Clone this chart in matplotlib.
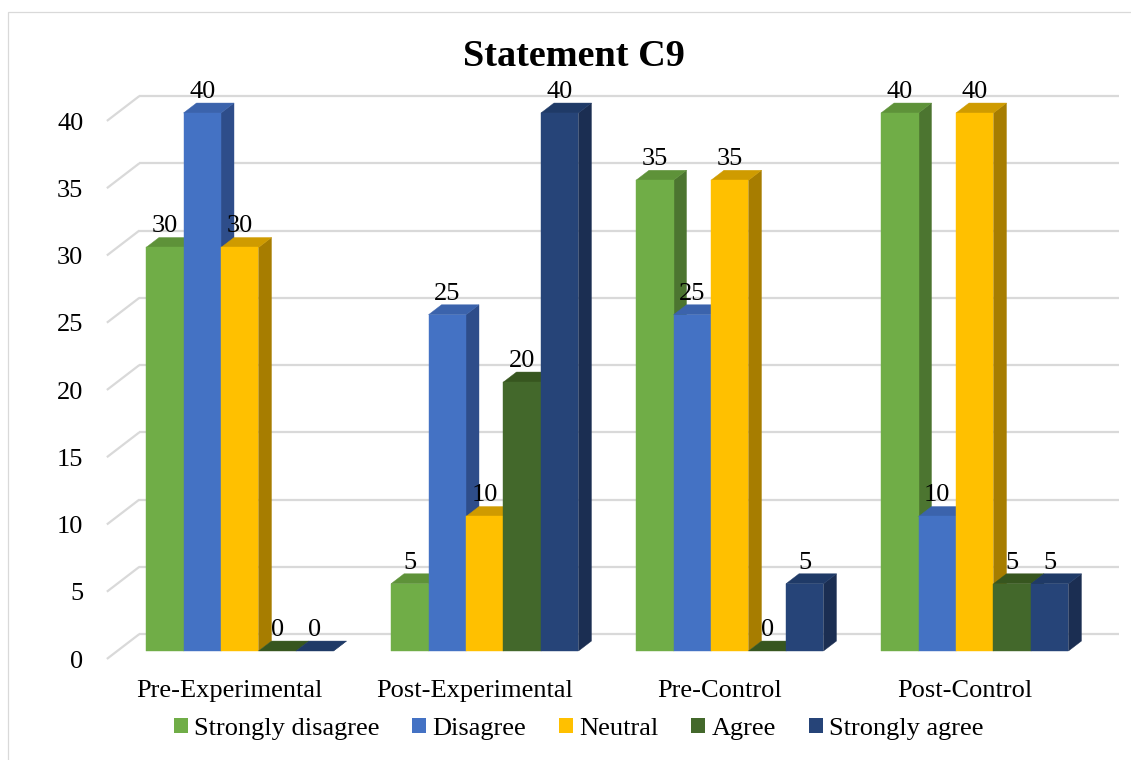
import matplotlib
matplotlib.use("Agg")
import matplotlib.pyplot as plt
from matplotlib.patches import Polygon, Rectangle, Patch

plt.rcParams['font.family'] = ['Liberation Serif', 'DejaVu Serif']

# ---- data -------------------------------------------------------------
title = "Statement C9"
groups = ["Pre-Experimental", "Post-Experimental", "Pre-Control", "Post-Control"]
series = ["Strongly disagree", "Disagree", "Neutral", "Agree", "Strongly agree"]
strongly_disagree = [30, 5, 35, 40]
disagree = [40, 25, 25, 10]
neutral = [30, 10, 35, 40]
agree = [0, 20, 0, 5]
strongly_agree = [0, 40, 5, 5]
y_ticks = [0, 5, 10, 15, 20, 25, 30, 35, 40]

values = [strongly_disagree, disagree, neutral, agree, strongly_agree]

# ---- style ------------------------------------------------------------
front_colors = ["#70AD47", "#4472C4", "#FFC000", "#43682B", "#264478"]
top_colors = ["#5E9239", "#3B63AC", "#CF9B00", "#37561F", "#1F3A67"]
side_colors = ["#4C7530", "#2E4D8A", "#A77D00", "#2D4719", "#1B2E52"]
grid_color = "#D9D9D9"
text_color = "#000000"
FS = 19

W, H = 1131, 760
fig = plt.figure(figsize=(W / 100, H / 100), dpi=100)
ax = fig.add_axes([0, 0, 1, 1])
ax.set_xlim(-0.9786, 3.6378)
ax.set_ylim(-8.104, 48.40)
ax.axis('off')

BAR_W = 0.153            # width of one column (category units)
DX, DY = 0.053, 0.74     # oblique offset of one column depth
WALL_D = 1.7             # depth of back wall (in column depths)
FRONT_D = -0.8           # depth of the front floor edge
X0, X1 = -0.5, 3.5       # floor extent

# ---- back wall gridlines, side wall lines and value axis labels ------
for v in y_ticks:
    ax.plot([X0 + WALL_D * DX, X1 + WALL_D * DX], [v + WALL_D * DY] * 2,
            color=grid_color, lw=1.6, zorder=1, solid_capstyle='butt')
    ax.plot([X0 + FRONT_D * DX, X0 + WALL_D * DX],
            [v + FRONT_D * DY, v + WALL_D * DY],
            color=grid_color, lw=1.6, zorder=1, solid_capstyle='butt')
    ax.annotate(str(v), xy=(X0 + FRONT_D * DX, v + FRONT_D * DY),
                xytext=(-17, -6.3), textcoords='offset points',
                ha='right', va='baseline', fontsize=FS, color=text_color)

# ---- 3-D looking columns ---------------------------------------------
z = 2
n = len(series)
for i, g in enumerate(groups):
    for j in range(n):
        h = values[j][i]
        xl = i + (j - n / 2) * BAR_W
        xr = xl + BAR_W
        side = Polygon([(xr, 0), (xr + DX, DY), (xr + DX, h + DY), (xr, h)],
                       closed=True, facecolor=side_colors[j],
                       edgecolor=side_colors[j], lw=0.3, zorder=z)
        top = Polygon([(xl, h), (xr, h), (xr + DX, h + DY), (xl + DX, h + DY)],
                      closed=True, facecolor=top_colors[j],
                      edgecolor=top_colors[j], lw=0.3, zorder=z + 1)
        ax.add_patch(side)
        ax.add_patch(top)
        if h > 0:
            front = Rectangle((xl, 0), BAR_W, h, facecolor=front_colors[j],
                              edgecolor=front_colors[j], lw=0.3, zorder=z + 2)
            ax.add_patch(front)
        z += 3

# value labels on top of everything
for i, g in enumerate(groups):
    for j in range(n):
        h = values[j][i]
        xl = i + (j - n / 2) * BAR_W
        ax.annotate(f"{h}", xy=(xl + BAR_W / 2, h), xytext=(0, 10.8),
                    textcoords='offset points', ha='center', va='baseline',
                    fontsize=FS, color=text_color, zorder=200)

# ---- category labels ---------------------------------------------------
for i, g in enumerate(groups):
    ax.annotate(g, xy=(i + FRONT_D * DX, FRONT_D * DY), xytext=(0, -27.4),
                textcoords='offset points', ha='center', va='baseline',
                fontsize=FS, color=text_color)

# ---- title -------------------------------------------------------------
fig.text(574 / W, 1 - 66 / H, title, ha='center', va='baseline',
         fontsize=27.5, fontweight='bold', color=text_color)

# ---- legend ------------------------------------------------------------
handles = [Patch(facecolor=c, edgecolor='none') for c in front_colors]
fig.legend(handles, series, loc='center', bbox_to_anchor=(578.5 / W, 1 - 729 / H),
           ncol=5, frameon=False, fontsize=FS, handlelength=0.53,
           handleheight=0.48, handletextpad=0.23, columnspacing=1.25,
           borderpad=0.0, labelcolor=text_color)

# ---- chart area border -------------------------------------------------
fig.patches.append(Rectangle((7.5 / W, -0.1), 1.2, 1.1 - 11.5 / H,
                             transform=fig.transFigure, fill=False,
                             edgecolor=grid_color, lw=0.9))

fig.savefig("out.png", dpi=100)
